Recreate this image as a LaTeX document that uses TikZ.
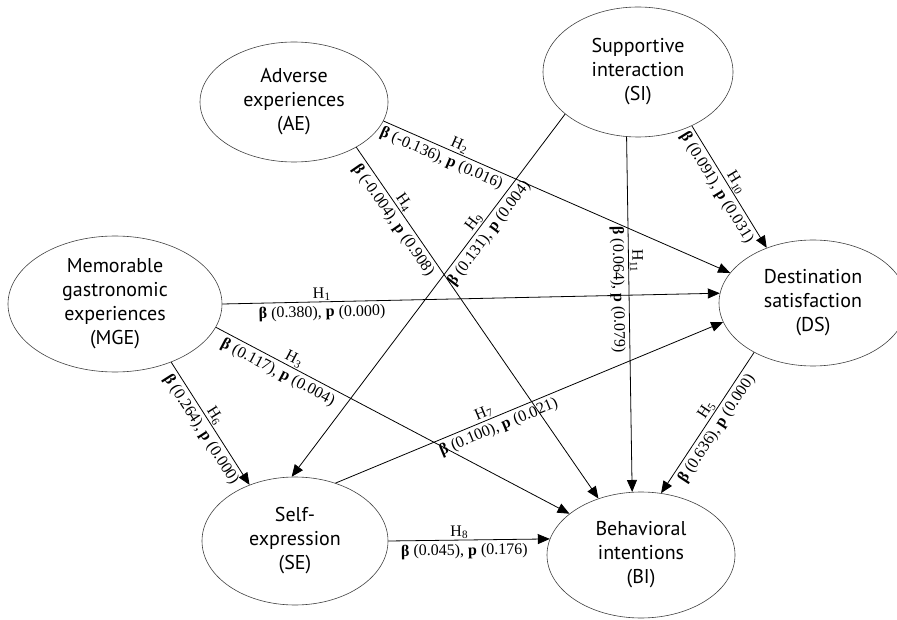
\documentclass[tikz,border=0pt]{standalone}
\usepackage{fontspec}
\setmainfont{Liberation Serif}
\newfontfamily\ovalfont{PT Sans}
\usetikzlibrary{arrows.meta,shapes.geometric}

\begin{document}
\begin{tikzpicture}[x=1pt,y=-1pt,
    construct/.style={ellipse,draw=black!75,line width=0.6pt,inner sep=0pt,
        align=center,font=\ovalfont\fontsize{20}{24}\selectfont},
    effect/.style={-{Triangle[length=12pt,width=10pt]},line width=0.8pt},
    hyp/.style={sloped,above,inner sep=1pt,font=\fontsize{16}{18}\selectfont},
    coef/.style={sloped,below,inner sep=3.5pt,font=\fontsize{16}{18}\selectfont}]
\useasboundingbox (0,0) rectangle (897,620);
% constructs
\node[construct,minimum width=188pt,minimum height=120pt] (AE) at (294,102) {Adverse\\experiences\\(AE)};
\node[construct,minimum width=190pt,minimum height=130pt] (SI) at (638,72) {Supportive\\interaction\\(SI)};
\node[construct,minimum width=214pt,minimum height=136pt] (MGE) at (115,304) {Memorable\\gastronomic\\experiences\\(MGE)};
\node[construct,minimum width=188pt,minimum height=126pt] (DS) at (813,303) {Destination\\satisfaction\\(DS)};
\node[construct,minimum width=186pt,minimum height=128pt] (SE) at (295,541) {Self-\\expression\\(SE)};
\node[construct,minimum width=188pt,minimum height=126pt] (BI) at (641,555) {Behavioral\\intentions\\(BI)};
% hypotheses
\draw[effect] (MGE.0) -- (DS.174)
    node[hyp,pos=0.2] {H\textsubscript{1}}
    node[coef,pos=0.2] {\textbf{β} (0.380), \textbf{p} (0.000)};
\draw[effect] (AE.-12) -- (DS.160)
    node[hyp,pos=0.21] {H\textsubscript{2}}
    node[coef,pos=0.18] {\textbf{β} (-0.136), \textbf{p} (0.016)};
\draw[effect] (MGE.-13) -- (BI.150)
    node[hyp,pos=0.21] {H\textsubscript{3}}
    node[coef,pos=0.19] {\textbf{β} (0.117), \textbf{p} (0.004)};
\draw[effect] (AE.-36) -- (BI.127)
    node[hyp,pos=0.17] {H\textsubscript{4}}
    node[coef,pos=0.19] {\textbf{β} (-0.004), \textbf{p} (0.908)};
\draw[effect] (DS.-140) -- (BI.72)
    node[hyp,pos=0.44] {H\textsubscript{5}}
    node[coef,pos=0.5] {\textbf{β} (0.636), \textbf{p} (0.000)};
\draw[effect] (MGE.-46) -- (SE.129)
    node[hyp,pos=0.47] {H\textsubscript{6}}
    node[coef,pos=0.5] {\textbf{β} (0.264), \textbf{p} (0.000)};
\draw[effect] (SE.55) -- (DS.192)
    node[hyp,pos=0.39] {H\textsubscript{7}}
    node[coef,pos=0.41] {\textbf{β} (0.100), \textbf{p} (0.021)};
\draw[effect] (SE.0) -- (BI.170)
    node[hyp,pos=0.44] {H\textsubscript{8}}
    node[coef,pos=0.47] {\textbf{β} (0.045), \textbf{p} (0.176)};
\draw[effect] (SI.210) -- (SE.93)
    node[hyp,pos=0.31] {H\textsubscript{9}}
    node[coef,pos=0.31] {\textbf{β} (0.131), \textbf{p} (0.004)};
\draw[effect] (SI.-45) -- (DS.130)
    node[hyp,pos=0.5] {H\textsubscript{10}}
    node[coef,pos=0.46] {\textbf{β} (0.091), \textbf{p} (0.031)};
\draw[effect] (SI.-100) -- (BI.98)
    node[hyp,pos=0.35] {H\textsubscript{11}}
    node[coef,pos=0.43] {\textbf{β} (0.064), \textbf{p} (0.079)};
\end{tikzpicture}
\end{document}
